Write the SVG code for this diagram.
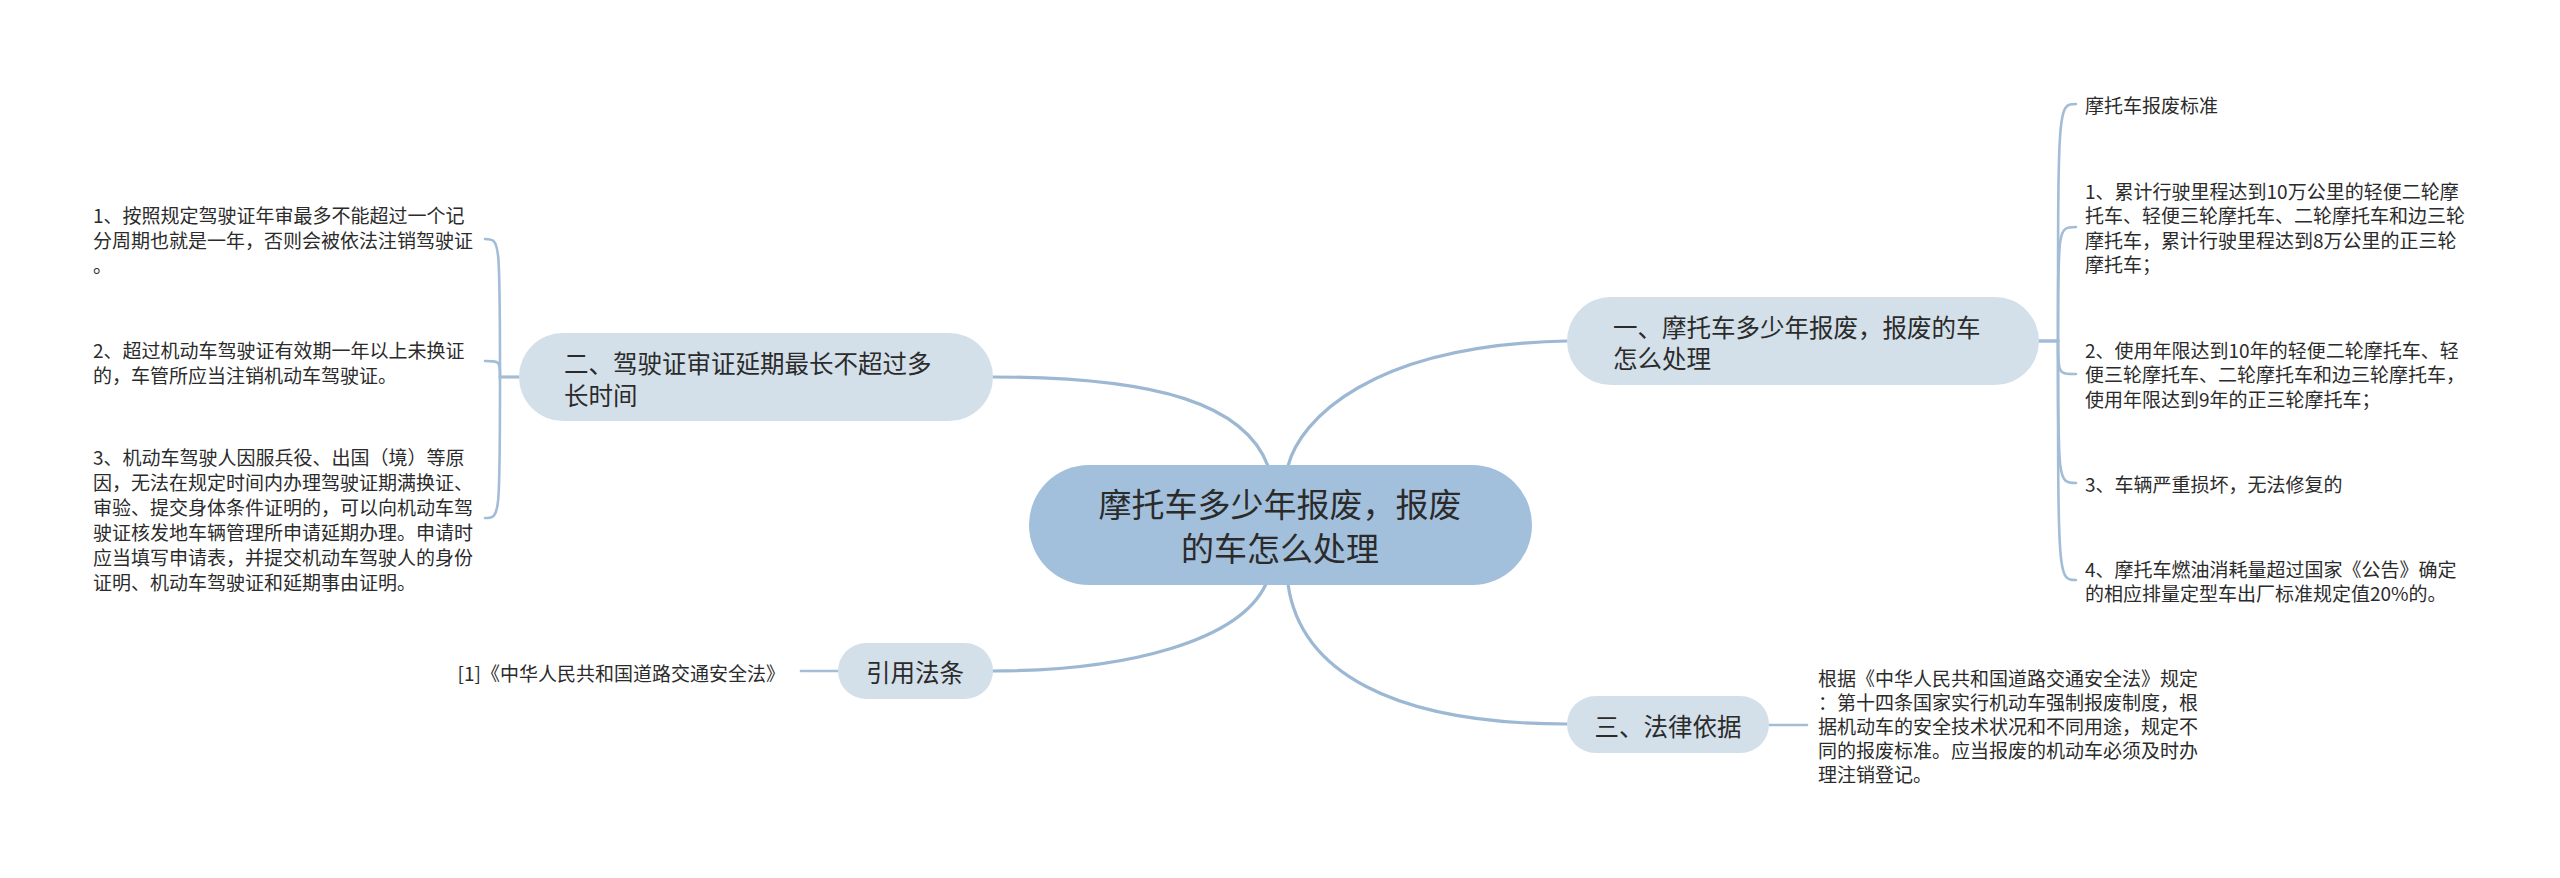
<svg xmlns="http://www.w3.org/2000/svg" width="2560" height="878" viewBox="0 0 2560 878">
<style>
text{font-family:"Noto Sans CJK SC","Noto Sans",sans-serif;fill:#2b2b2b;dominant-baseline:central}
.root{fill:#a2c0dc}
.br{fill:#d3e0ea}
.c0{font-size:33px;text-anchor:middle}
.c1{font-size:24.5px}
.c1m{font-size:24.5px;text-anchor:middle}
.lf{font-size:19px}
.main{fill:none;stroke:#9db8d3;stroke-width:3.2;stroke-linecap:round}
.sub{fill:none;stroke:#a3bdd6;stroke-width:2.6;stroke-linecap:round}
</style>
<rect width="2560" height="878" fill="#ffffff"/>
<g id="connectors">
<path class="main" d="M1288,466 C1300,420 1370,345 1567,341"/>
<path class="main" d="M1268,466 C1245,405 1160,377 993,377"/>
<path class="main" d="M1266,584 C1240,640 1130,671 992,671"/>
<path class="main" d="M1288,584 C1300,670 1390,724 1567,724"/>
<path class="sub" d="M2038,341 H2058 C2058,104 2058,104 2076,104"/>
<path class="sub" d="M2038,341 H2058 C2058,227 2058,227 2076,227"/>
<path class="sub" d="M2038,341 H2058 C2058,374 2058,374 2076,374"/>
<path class="sub" d="M2038,341 H2058 C2058,483 2058,483 2076,483"/>
<path class="sub" d="M2038,341 H2058 C2058,580 2058,580 2076,580"/>
<path class="sub" d="M519,377 H500 C500,239 500,239 485,239"/>
<path class="sub" d="M519,377 H500 C500,361 500,361 485,361"/>
<path class="sub" d="M519,377 H500 C500,518 500,518 485,518"/>
<path class="sub" d="M1768,725 H1807"/>
<path class="sub" d="M838,671 H801"/>
</g>
<g id="root">
<rect class="root" x="1029" y="465" width="503" height="120" rx="60"/>
<text class="c0" x="1280" y="503">摩托车多少年报废，报废</text>
<text class="c0" x="1280" y="547">的车怎么处理</text>
</g>
<g id="branch1">
<rect class="br" x="1567" y="297" width="472" height="88" rx="44"/>
<text class="c1" x="1613" y="326">一、摩托车多少年报废，报废的车</text>
<text class="c1" x="1613" y="357">怎么处理</text>
</g>
<g id="branch2">
<rect class="br" x="519" y="333" width="474" height="88" rx="44"/>
<text class="c1" x="564" y="362">二、驾驶证审证延期最长不超过多</text>
<text class="c1" x="564" y="394">长时间</text>
</g>
<g id="branch3">
<rect class="br" x="1567" y="696" width="202" height="57" rx="28.5"/>
<text class="c1m" x="1668" y="725">三、法律依据</text>
</g>
<g id="branch4">
<rect class="br" x="838" y="643" width="155" height="56" rx="28"/>
<text class="c1m" x="915" y="671">引用法条</text>
</g>
<g id="leaf1-0"><text class="lf" x="2085" y="104">摩托车报废标准</text></g>
<g id="leaf1-1">
<text class="lf" x="2085" y="190">1、累计行驶里程达到10万公里的轻便二轮摩</text>
<text class="lf" x="2085" y="214.5">托车、轻便三轮摩托车、二轮摩托车和边三轮</text>
<text class="lf" x="2085" y="239">摩托车，累计行驶里程达到8万公里的正三轮</text>
<text class="lf" x="2085" y="263.5">摩托车；</text>
</g>
<g id="leaf1-2">
<text class="lf" x="2085" y="349">2、使用年限达到10年的轻便二轮摩托车、轻</text>
<text class="lf" x="2085" y="373.5">便三轮摩托车、二轮摩托车和边三轮摩托车，</text>
<text class="lf" x="2085" y="398">使用年限达到9年的正三轮摩托车；</text>
</g>
<g id="leaf1-3"><text class="lf" x="2085" y="483">3、车辆严重损坏，无法修复的</text></g>
<g id="leaf1-4">
<text class="lf" x="2085" y="568">4、摩托车燃油消耗量超过国家《公告》确定</text>
<text class="lf" x="2085" y="592.5">的相应排量定型车出厂标准规定值20%的。</text>
</g>
<g id="leaf2-1">
<text class="lf" x="93" y="214">1、按照规定驾驶证年审最多不能超过一个记</text>
<text class="lf" x="93" y="239">分周期也就是一年，否则会被依法注销驾驶证</text>
<text class="lf" x="93" y="264">。</text>
</g>
<g id="leaf2-2">
<text class="lf" x="93" y="349">2、超过机动车驾驶证有效期一年以上未换证</text>
<text class="lf" x="93" y="374">的，车管所应当注销机动车驾驶证。</text>
</g>
<g id="leaf2-3">
<text class="lf" x="93" y="456">3、机动车驾驶人因服兵役、出国（境）等原</text>
<text class="lf" x="93" y="481">因，无法在规定时间内办理驾驶证期满换证、</text>
<text class="lf" x="93" y="506">审验、提交身体条件证明的，可以向机动车驾</text>
<text class="lf" x="93" y="531">驶证核发地车辆管理所申请延期办理。申请时</text>
<text class="lf" x="93" y="556">应当填写申请表，并提交机动车驾驶人的身份</text>
<text class="lf" x="93" y="581">证明、机动车驾驶证和延期事由证明。</text>
</g>
<g id="leaf3-1">
<text class="lf" x="1818" y="677">根据《中华人民共和国道路交通安全法》规定</text>
<text class="lf" x="1818" y="701">：第十四条国家实行机动车强制报废制度，根</text>
<text class="lf" x="1818" y="725">据机动车的安全技术状况和不同用途，规定不</text>
<text class="lf" x="1818" y="749">同的报废标准。应当报废的机动车必须及时办</text>
<text class="lf" x="1818" y="773">理注销登记。</text>
</g>
<g id="leaf4-1">
<text class="lf" x="785" y="672" text-anchor="end">[1]《中华人民共和国道路交通安全法》</text>
</g>
</svg>
